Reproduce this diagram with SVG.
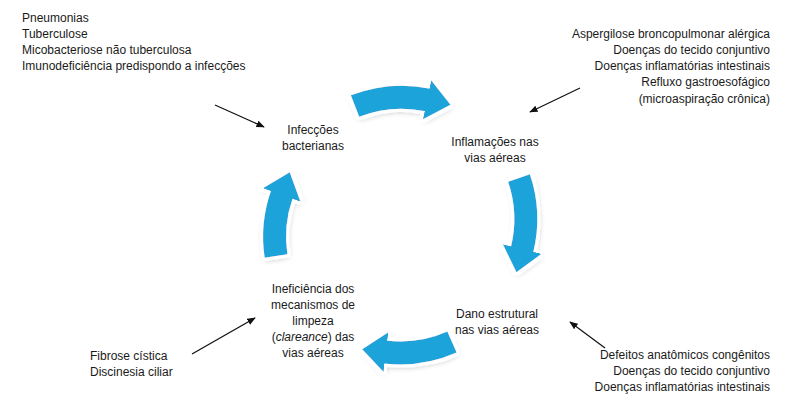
<svg xmlns="http://www.w3.org/2000/svg" width="785" height="402" viewBox="0 0 785 402">
<style>
text{font-family:"Liberation Sans",Arial,sans-serif;font-size:12px;fill:#1a1a1a}
.c{text-anchor:middle}.r{text-anchor:end}
.cyc{fill:none;stroke:#1ba3d9;stroke-width:23;marker-end:url(#bh)}
.ptr{stroke:#111;stroke-width:1.2;fill:none;marker-end:url(#ah)}
</style>
<defs>
<marker id="bh" markerUnits="userSpaceOnUse" viewBox="0 -22 26 44" refX="1" refY="0" markerWidth="26" markerHeight="44" orient="auto"><path d="M0,-20 L24,0 L0,20 z" fill="#1ba3d9"/></marker>
<marker id="ah" viewBox="0 0 10 10" refX="9" refY="5" markerWidth="7" markerHeight="7" orient="auto"><path d="M0,1 L10,5 L0,9 z" fill="#111"/></marker>
<filter id="sh" filterUnits="userSpaceOnUse" x="0" y="0" width="785" height="402"><feMorphology in="SourceAlpha" operator="dilate" radius="2.5" result="d"/><feFlood flood-color="#fff"/><feComposite in2="d" operator="in" result="w"/><feGaussianBlur in="SourceAlpha" stdDeviation="3" result="b"/><feOffset in="b" dx="1" dy="2" result="o"/><feComponentTransfer in="o" result="o2"><feFuncA type="linear" slope="0.35"/></feComponentTransfer><feMerge><feMergeNode in="o2"/><feMergeNode in="w"/><feMergeNode in="SourceGraphic"/></feMerge></filter>
</defs>
<g id="connectors">
<g filter="url(#sh)">
<path class="cyc" d="M355,106 A128,128 0 0 1 428,100"/>
<path class="cyc" d="M519,178 A128,128 0 0 1 522,250"/>
<path class="cyc" d="M452,342 A128,128 0 0 1 385,352"/>
<path class="cyc" d="M276,256 A128,128 0 0 1 282,194"/>
</g>
<line class="ptr" x1="215" y1="105" x2="264" y2="127"/>
<line class="ptr" x1="580" y1="88" x2="530" y2="112"/>
<line class="ptr" x1="192" y1="354" x2="255" y2="318"/>
<line class="ptr" x1="605" y1="348" x2="570" y2="322"/>
</g>
<g id="causes-infeccoes"><text x="22" y="22">Pneumonias</text><text x="22" y="38">Tuberculose</text><text x="22" y="54">Micobacteriose não tuberculosa</text><text x="22" y="70">Imunodeficiência predispondo a infecções</text></g>
<g id="causes-inflamacoes"><text class="r" x="770" y="38">Aspergilose broncopulmonar alérgica</text><text class="r" x="770" y="54">Doenças do tecido conjuntivo</text><text class="r" x="770" y="70">Doenças inflamatórias intestinais</text><text class="r" x="770" y="86">Refluxo gastroesofágico</text><text class="r" x="770" y="103">(microaspiração crônica)</text></g>
<g id="infeccoes"><text class="c" x="313" y="134">Infecções</text><text class="c" x="313" y="150">bacterianas</text></g>
<g id="inflamacoes"><text class="c" x="495" y="146">Inflamações nas</text><text class="c" x="495" y="162">vias aéreas</text></g>
<g id="ineficiencia"><text class="c" x="313" y="293">Ineficiência dos</text><text class="c" x="313" y="309">mecanismos de</text><text class="c" x="313" y="325">limpeza</text><text class="c" x="313" y="341">(<tspan font-style="italic">clareance</tspan>) das</text><text class="c" x="313" y="357">vias aéreas</text></g>
<g id="dano"><text class="c" x="497" y="318">Dano estrutural</text><text class="c" x="497" y="334">nas vias aéreas</text></g>
<g id="causes-ineficiencia"><text x="90" y="360">Fibrose cística</text><text x="90" y="376">Discinesia ciliar</text></g>
<g id="causes-dano"><text class="r" x="770" y="359">Defeitos anatômicos congênitos</text><text class="r" x="770" y="375">Doenças do tecido conjuntivo</text><text class="r" x="770" y="391">Doenças inflamatórias intestinais</text></g>
</svg>
